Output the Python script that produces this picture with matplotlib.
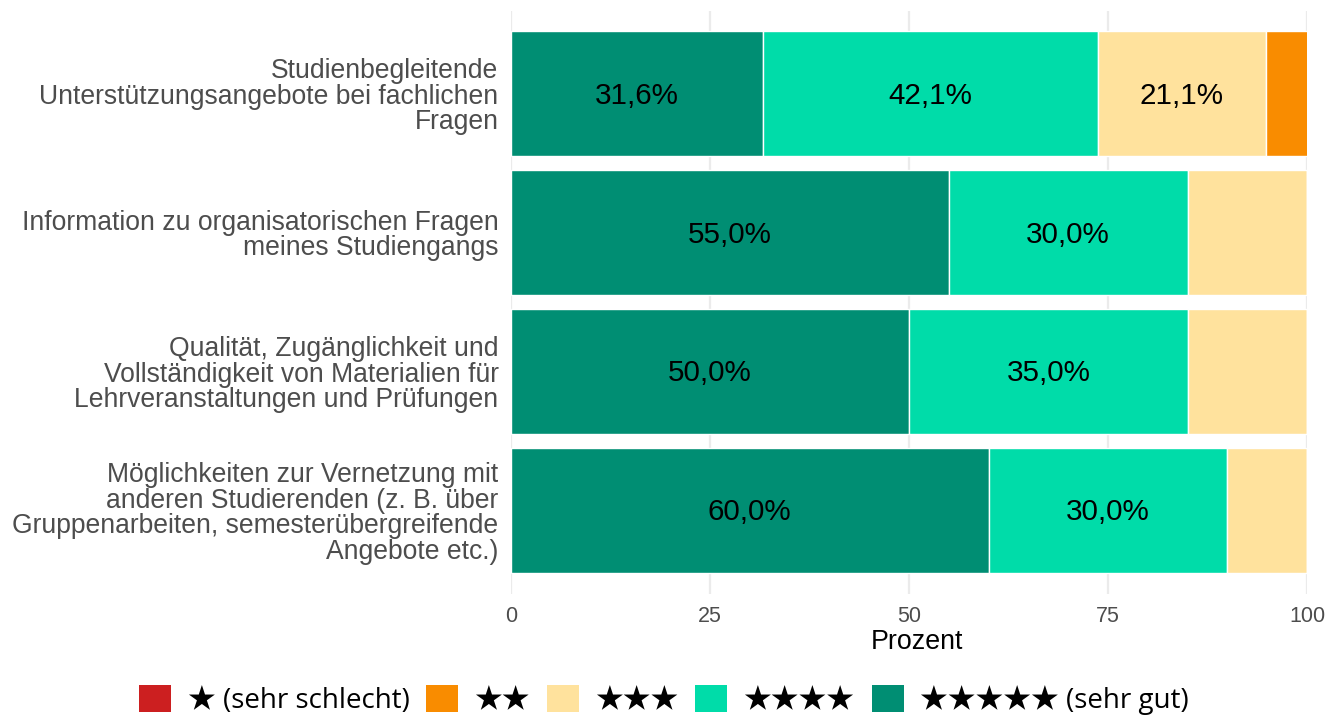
import matplotlib
matplotlib.use('Agg')
import matplotlib.pyplot as plt
from matplotlib.patches import Patch
import numpy as np

# Data
kategorien = [
    'Studienbegleitende\nUnterstützungsangebote bei fachlichen\nFragen',
    'Information zu organisatorischen Fragen\nmeines Studiengangs',
    'Qualität, Zugänglichkeit und\nVollständigkeit von Materialien für\nLehrveranstaltungen und Prüfungen',
    'Möglichkeiten zur Vernetzung mit\nanderen Studierenden (z. B. über\nGruppenarbeiten, semesterübergreifende\nAngebote etc.)',
]
stufen = ['★ (sehr schlecht)', '★★', '★★★', '★★★★', '★★★★★ (sehr gut)']
# Prozent je Stufe (1 Stern ... 5 Sterne), je Kategorie
werte = {
    '★ (sehr schlecht)': [0.0, 0.0, 0.0, 0.0],
    '★★': [5.3, 0.0, 0.0, 0.0],
    '★★★': [21.1, 15.0, 15.0, 10.0],
    '★★★★': [42.1, 30.0, 35.0, 30.0],
    '★★★★★ (sehr gut)': [31.6, 55.0, 50.0, 60.0],
}
farben = ['#CC1F20', '#F98C00', '#FFE29D', '#00DCA9', '#008E73']
xticks = [0, 25, 50, 75, 100]

fig = plt.figure(figsize=(13.28, 7.15), dpi=100)
ax = fig.add_axes([511 / 1328, 1 - 594 / 715, (1307 - 511) / 1328, (594 - 10.6) / 715])

y = np.arange(len(kategorien))
links = np.zeros(len(kategorien))
# stack from 5 stars on the left to 1 star on the right
for stufe, farbe in zip(stufen[::-1], farben[::-1]):
    v = np.array(werte[stufe])
    ax.barh(y, v, left=links, height=0.9, color=farbe, edgecolor='white',
            linewidth=1, zorder=2)
    for yi, li, vi in zip(y, links, v):
        if vi > 20:
            ax.text(li + vi / 2, yi + 0.012, f'{vi:.1f}%'.replace('.', ','), ha='center',
                    va='center', fontsize=21.3, family='Liberation Sans',
                    color='black', zorder=3)
    links += v

ax.set_xlim(0, 100)
ax.set_ylim(len(kategorien) - 0.4, -0.6)
ax.set_yticks(y)
ax.set_yticklabels(kategorien, fontsize=19.1, family='Liberation Sans',
                   color='#4D4D4D', linespacing=0.98)
ax.set_xticks(xticks)
ax.set_xticklabels([str(t) for t in xticks], fontsize=15.5,
                   family='Liberation Sans', color='#4D4D4D')
ax.tick_params(length=0, pad=9)
ax.tick_params(axis='y', pad=9)
ax.set_xlabel('Prozent', fontsize=19.3, family='Liberation Sans')
ax.xaxis.set_label_coords((917 - 511) / 796, -(642 - 594) / 583.4, transform=ax.transAxes)
ax.xaxis.label.set_va('center')
ax.grid(axis='x', color='#EBEBEB', linewidth=1.6, zorder=0)
for s in ax.spines.values():
    s.set_visible(False)

handles = [Patch(facecolor=f, edgecolor='none') for f in farben]
leg = fig.legend(handles, stufen, loc='center', bbox_to_anchor=(0.5, 1 - 700 / 715),
                 ncol=5, frameon=False, handlelength=1.15, handleheight=1.15,
                 handletextpad=0.6, columnspacing=0.6, borderpad=0,
                 prop={'family': ['Open Sans', 'Noto Sans CJK SC'], 'size': 20})

fig.savefig('out.png', dpi=100)
